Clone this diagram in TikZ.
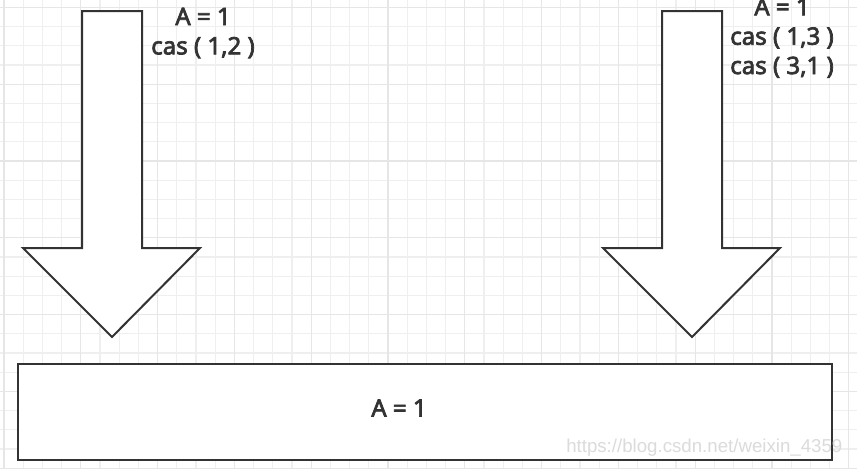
\documentclass[tikz,border=0pt]{standalone}
\usepackage{fontspec}
\setmainfont{Noto Sans}
\newfontfamily\lblfont{Noto Sans}[FakeBold=3]
\newfontfamily\markfont{Liberation Sans}
\usetikzlibrary{positioning}
\definecolor{gridminor}{HTML}{EFEFEF}
\definecolor{gridmajor}{HTML}{E6E6E6}
\definecolor{ink}{HTML}{333333}

\begin{document}
\begin{tikzpicture}[
    x=0.75pt, y=-0.75pt,
    lbl/.style={font=\lblfont\fontsize{18}{22}\selectfont, text=ink, inner sep=0pt, align=center},
    outline/.style={draw=ink, line width=1.5pt, fill=white, line join=miter}
]
\useasboundingbox (0,0) rectangle (857,468);
\fill[white] (0,0) rectangle (857,468);

% grid
\foreach \k in {0,...,44}
  \draw[gridminor, line width=0.9pt] ({4+19.2*\k},0) -- ({4+19.2*\k},468);
\foreach \k in {0,...,24}
  \draw[gridminor, line width=0.9pt] (0,{7.4+19.2*\k}) -- (857,{7.4+19.2*\k});
\foreach \k in {0,...,11}
  \draw[gridmajor, line width=0.9pt] ({4+76.8*\k},0) -- ({4+76.8*\k},468);
\foreach \k in {0,...,6}
  \draw[gridmajor, line width=0.9pt] (0,{7.4+76.8*\k}) -- (857,{7.4+76.8*\k});

% arrows
\foreach \x in {0,580}
  \draw[outline] (82+\x,11) -- (142+\x,11) -- (142+\x,248) -- (200+\x,248)
    -- (112+\x,337) -- (23+\x,248) -- (82+\x,248) -- cycle;

\node[lbl] (lblL) at (203,33) {A = 1\\cas ( 1,2 )};
\node[lbl] (lblR) at (782,38) {A = 1\\cas ( 1,3 )\\cas ( 3,1 )};

% base block
\node[outline, minimum width=610.5pt, minimum height=72pt] (base) at (425,412) {};
\node[lbl] (baseA) at (399,408) {A = 1};

\node[anchor=base west, inner sep=0pt, text=gray!28, font=\markfont\fontsize{14}{14}\selectfont]
  (mark) at (566,452) {https://blog.csdn.net/weixin\_4359};
\end{tikzpicture}
\end{document}
